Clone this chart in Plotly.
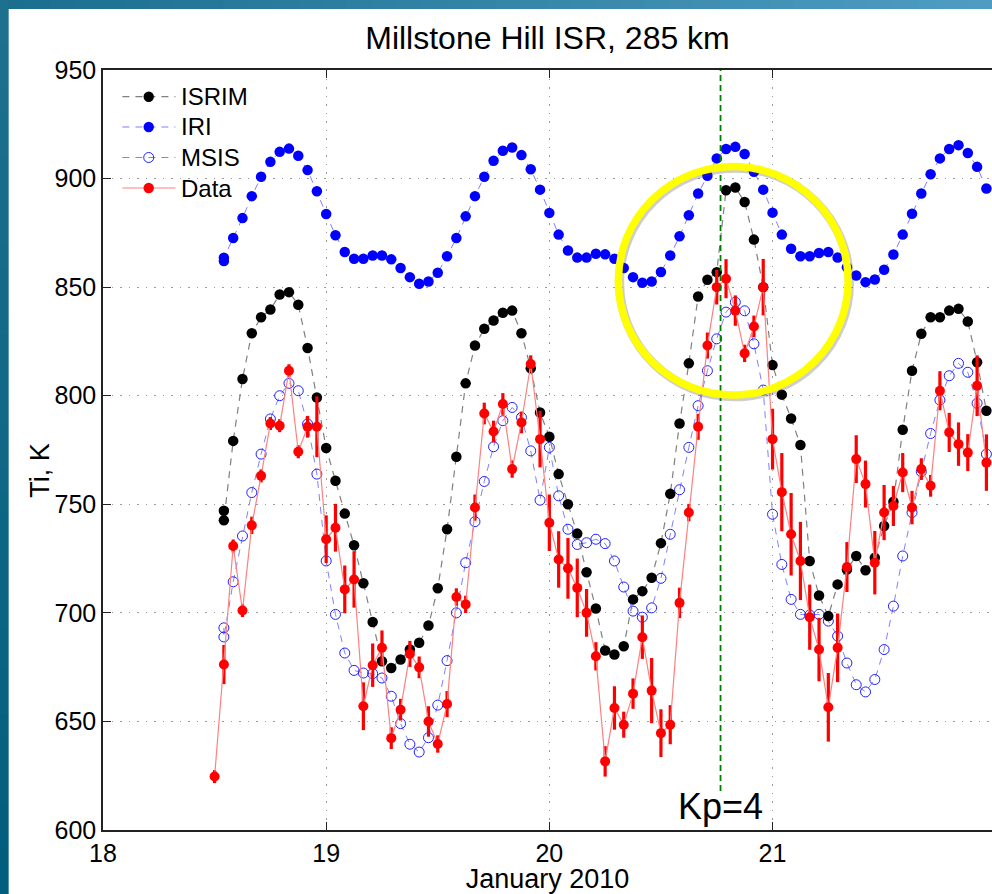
import plotly.graph_objects as go

# ---------------- data ----------------
# model curves are sampled hourly; the first hour (13 UT on Jan 18) appears twice
MODEL_HOURS = [13] + list(range(13, 96))          # hours after 2010-01-18 00 UT
ISRIM = [747, 742.6, 779.2, 807.7, 828.8, 836.1, 839.7, 846.6, 847.7, 841.9, 822.0, 799.2,
         775.9, 760.8, 745.7, 731.1, 713.6, 695.8, 677.7, 674.6, 678.5, 683.1,
         686.2, 694.2, 711.3, 738.5, 771.9, 805.7, 823.1, 830.8, 834.6, 838.2,
         839.2, 828.8, 812.6, 792.3, 781.1, 763.9, 750.0, 736.5, 718.7, 702.0,
         682.7, 680.8, 684.6, 706.2, 710.0, 716.2, 732.1, 754.8, 787.2, 814.9,
         845.7, 853.4, 856.9, 894.6, 895.9, 889.2, 871.9, 850, 814.1, 800.5,
         789.5, 777.3, 723.9, 708.0, 698.5, 713.1, 720.0, 726.2, 719.6, 725.4,
         740.0, 751.2, 784.3, 811.5, 828.5, 836.1, 836.1, 839.2, 840.0, 834.2,
         815.4, 793.1]
IRI = [862, 863.5, 872.6, 881.8, 891.9, 900.8, 907.7, 912.3, 913.8, 910.5, 903.9, 894.2,
       883.7, 873.9, 866.2, 863.1, 863.1, 864.6, 864.6, 862.8, 858.8, 854.6,
       851.6, 852.6, 856.6, 864.2, 872.6, 882.6, 891.9, 900.8, 908.2, 912.8,
       914.3, 910.8, 904.3, 894.9, 884.2, 874.2, 866.9, 863.6, 863.6, 865.4,
       865.1, 863.1, 858.8, 854.6, 852.0, 852.6, 857.0, 864.6, 873.4, 883.1,
       893.1, 901.3, 909.3, 913.6, 914.6, 911.3, 903.1, 894.9, 884.3, 874.2,
       867.7, 864.2, 864.2, 865.7, 866.2, 863.6, 859.2, 855.4, 852.3, 853.5,
       858.0, 865.0, 874.2, 883.8, 893.1, 902.0, 909.3, 913.6, 915.4, 911.8,
       905.4, 895.4]
MSIS = [693.1, 688.9, 714.3, 735.4, 755.4, 773.1, 789.3, 800, 805.7, 802.3, 787, 763.9,
        723.9, 699.3, 681.5, 673.5, 672.3, 672, 670, 661.6, 649, 639.5,
        635.9, 642.5, 657.5, 678, 700, 723.1, 742, 760.5, 776.5, 788.5,
        794.6, 790, 774.6, 751.9, 776.2, 753.9, 738.5, 731.5, 732.3, 733.9,
        731.9, 723.9, 711.9, 700.8, 698, 702.3, 715.9, 736.2, 756.7, 776.2,
        795.4, 811.5, 826.2, 838.5, 843.1, 839.1, 823.9, 802.6, 745.4, 722.3,
        706.2, 699.3, 699, 699.3, 696.2, 689.3, 676.9, 666.9, 663.6, 669.3,
        683.1, 703.1, 726.2, 746.2, 765, 782.6, 798, 809.2, 814.9, 810.8,
        796.5, 773.1]

DATA_HOURS = list(range(12, 96))
DATA = [624.6, 676.2, 730.8, 701.1, 740.3, 763.1, 787.2, 786.2, 811.5, 774.2,
        785.7, 785.7, 733.9, 739.2, 710.8, 715.4, 657, 675.9, 683.9, 642.3,
        655.4, 681.1, 674.9, 650, 639.6, 658, 707.3, 703.9, 748.5, 791.8,
        783.5, 796.2, 766.2, 787.7, 814.6, 780, 741.5, 724.6, 720.5, 711.5,
        700, 680, 631.6, 656.2, 648.5, 662.8, 688.8, 664.2, 644.6, 648.5,
        704.6, 746.2, 785.7, 823.1, 850, 853.9, 839.2, 819.5, 831.9, 850,
        780, 755.6, 736.2, 723.9, 698, 683.1, 656.5, 683.9, 721.1, 770.8,
        759.3, 723.1, 746.2, 749.2, 764.6, 748.5, 766.2, 758.5, 802.3, 783.1,
        777.7, 773.8, 804.6, 769.2]
DATA_ERR = [3, 9, 3, 3, 4, 3, 3, 3, 3, 3, 5, 14, 11, 11, 11, 13, 11, 10, 8, 5,
            5, 6, 5, 7, 4, 6, 4, 4, 6, 5, 5, 5, 4, 5, 4, 13, 13, 13, 14, 13.5,
            11, 6.5, 7, 10, 6, 7, 10, 15, 11, 9, 7, 4, 6, 6, 8, 9, 7, 4, 5, 13,
            14, 18, 19, 18, 15, 14.6, 15.8, 15.8, 11.5, 11, 10.8, 14.6, 12.7, 9.2,
            9, 7.7, 5, 5, 9, 9, 10, 8.5, 14, 13]

X_TICKS = [18, 19, 20, 21, 22]
Y_TICKS = [600, 650, 700, 750, 800, 850, 900, 950]
LEGEND_NAMES = ["ISRIM", "IRI", "MSIS", "Data"]

KP_TIME = 20.767          # day of the Kp=4 marker line
KP_LINE_BOTTOM = 618      # K, lower end of the marker line
KP_LABEL = "Kp=4"
# highlighted region (ellipse bounds, day / K)
HL_X = [20.309, 21.339]
HL_Y = [800.3, 905.6]

FONT = "Liberation Sans, Arial, Helvetica, sans-serif"

# series styles
STYLE = {
    "ISRIM": dict(line="#808080", dash="7px,6px", marker="#000000", open=False),
    "IRI": dict(line="#8080ff", dash="7px,6px", marker="#0000ff", open=False),
    "MSIS": dict(line="#8080ff", dash="7px,6px", marker="#2020ff", open=True),
    "Data": dict(line="#ff8080", dash="solid", marker="#ff0000", open=False),
}


def to_day(hours):
    return [18 + h / 24 for h in hours]


mx = to_day(MODEL_HOURS)
dx = to_day(DATA_HOURS)

fig = go.Figure()

fig.add_trace(go.Scatter(
    x=mx, y=IRI, name="IRI", mode="lines+markers",
    line=dict(color=STYLE["IRI"]["line"], width=1, dash=STYLE["IRI"]["dash"]),
    marker=dict(symbol="circle", size=10.5, color=STYLE["IRI"]["marker"], line=dict(width=0))))
fig.add_trace(go.Scatter(
    x=mx, y=MSIS, name="MSIS", mode="lines+markers",
    line=dict(color=STYLE["MSIS"]["line"], width=1, dash=STYLE["MSIS"]["dash"]),
    marker=dict(symbol="circle-open", size=10, color=STYLE["MSIS"]["marker"], line=dict(width=1))))
fig.add_trace(go.Scatter(
    x=mx, y=ISRIM, name="ISRIM", mode="lines+markers",
    line=dict(color=STYLE["ISRIM"]["line"], width=1.2, dash=STYLE["ISRIM"]["dash"]),
    marker=dict(symbol="circle", size=10.5, color=STYLE["ISRIM"]["marker"], line=dict(width=0))))
fig.add_trace(go.Scatter(
    x=dx, y=DATA, name="Data", mode="lines+markers",
    line=dict(color=STYLE["Data"]["line"], width=1.2),
    marker=dict(symbol="circle", size=10, color=STYLE["Data"]["marker"], line=dict(width=0)),
    error_y=dict(type="data", array=DATA_ERR, visible=True, color="#ff0000",
                 thickness=3.2, width=0)))

# ---------- page geometry (pixels) ----------
W, H = 992, 894
L, T, R, B = 103.3, 70, 992, 830
pw, ph = R - L, B - T


def px2paper(px, py):
    return (px - L) / pw, (B - py) / ph


def lerp(c1, c2, t):
    return "rgb(%d,%d,%d)" % tuple(round(a + (b - a) * t) for a, b in zip(c1, c2))


shapes = []
annotations = []

# slide background (gradient frame)
n = 40
for i in range(n):
    x0, y0 = px2paper(W * i / n, 0)
    x1, y1 = px2paper(W * (i + 1) / n + 1, 9)
    shapes.append(dict(type="rect", xref="paper", yref="paper", x0=x0, x1=x1, y0=y1, y1=y0,
                       fillcolor=lerp((28, 110, 142), (78, 156, 194), i / (n - 1)),
                       line=dict(width=0), layer="below"))
for i in range(n):
    x0, y0 = px2paper(0, H * i / n)
    x1, y1 = px2paper(9, H * (i + 1) / n + 1)
    shapes.append(dict(type="rect", xref="paper", yref="paper", x0=x0, x1=x1, y0=y1, y1=y0,
                       fillcolor=lerp((30, 112, 143), (2, 94, 126), i / (n - 1)),
                       line=dict(width=0), layer="below"))
wx0, wy0 = px2paper(9, 9)
wx1, wy1 = px2paper(W + 2, H + 2)
shapes.append(dict(type="rect", xref="paper", yref="paper", x0=wx0, x1=wx1, y0=wy1, y1=wy0,
                   fillcolor="white", line=dict(width=0), layer="below"))

# Kp marker line
shapes.append(dict(type="line", xref="x", yref="y", x0=KP_TIME, x1=KP_TIME,
                   y0=KP_LINE_BOTTOM, y1=950,
                   line=dict(color="#008000", width=1.8, dash="6px,4px"), layer="above"))
# highlight circle with soft shadow
shapes.append(dict(type="circle", xref="x", yref="y",
                   x0=HL_X[0] + 0.006, x1=HL_X[1] + 0.006, y0=HL_Y[0] - 0.8, y1=HL_Y[1] - 0.8,
                   line=dict(color="rgba(60,60,60,0.25)", width=9), layer="above"))
shapes.append(dict(type="circle", xref="x", yref="y",
                   x0=HL_X[0], x1=HL_X[1], y0=HL_Y[0], y1=HL_Y[1],
                   line=dict(color="#ffff00", width=7.5), layer="above"))

# legend (MATLAB style: sample line, marker, label)
LEG_ROWS = [96.7, 127.0, 157.5, 188.0]
for name, row in zip(LEGEND_NAMES, LEG_ROWS):
    st = STYLE[name]
    xa, ya = px2paper(122.7, row)
    xb, _ = px2paper(175.7, row)
    xm, _ = px2paper(149, row)
    shapes.append(dict(type="line", xref="paper", yref="paper", x0=xa, x1=xb, y0=ya, y1=ya,
                       line=dict(color=st["line"], width=1.2, dash=st["dash"]), layer="above"))
    if st["open"]:
        shapes.append(dict(type="circle", xref="paper", yref="paper", xsizemode="pixel",
                           ysizemode="pixel", xanchor=xm, yanchor=ya, x0=-5, x1=5, y0=-5, y1=5,
                           line=dict(color=st["marker"], width=1), fillcolor="rgba(0,0,0,0)",
                           layer="above"))
    else:
        shapes.append(dict(type="circle", xref="paper", yref="paper", xsizemode="pixel",
                           ysizemode="pixel", xanchor=xm, yanchor=ya, x0=-5.2, x1=5.2, y0=-5.2,
                           y1=5.2, line=dict(width=0), fillcolor=st["marker"], layer="above"))
    xt, _ = px2paper(179, row)
    annotations.append(dict(x=xt, y=ya, xref="paper", yref="paper", text=name, showarrow=False,
                            xanchor="left", yanchor="middle",
                            font=dict(size=24, family=FONT, color="black")))

# Kp label
annotations.append(dict(x=KP_TIME, y=621, xref="x", yref="y", text=KP_LABEL,
                        showarrow=False, xanchor="center", yanchor="top",
                        font=dict(size=36, family=FONT, color="black")))
# y axis title
ytx, yty = px2paper(40, 470)
annotations.append(dict(x=ytx, y=yty, xref="paper", yref="paper", text="Ti, K", textangle=-90,
                        showarrow=False, xanchor="center", yanchor="middle",
                        font=dict(size=27, family=FONT, color="black")))

fig.update_layout(
    width=W, height=H, autosize=False,
    margin=dict(l=L, r=0, t=T, b=H - B),
    paper_bgcolor="rgb(20,104,136)", plot_bgcolor="white",
    font=dict(family=FONT, color="black", size=24),
    title=dict(text="Millstone Hill ISR, 285 km", x=0.5, xref="paper", xanchor="center",
               y=1 - 38 / H, yref="container", yanchor="middle",
               font=dict(size=32, family=FONT, color="black")),
    shapes=shapes,
    annotations=annotations,
    showlegend=False,
)

fig.update_xaxes(range=[18, 18 + pw / 223.1], tickvals=X_TICKS, ticktext=[str(v) for v in X_TICKS],
                 showgrid=True, gridcolor="#9a9a9a", griddash="1.5px,7px", gridwidth=1.2,
                 showline=True, linecolor="#222222", linewidth=1.5, mirror="ticks",
                 ticks="inside", ticklen=8, tickcolor="#222222", tickwidth=1.2,
                 zeroline=False, tickfont=dict(size=25, family=FONT),
                 title=dict(text="January 2010", font=dict(size=27, family=FONT), standoff=6))
fig.update_yaxes(range=[600, 950], tickvals=Y_TICKS, ticktext=[str(v) for v in Y_TICKS],
                 showgrid=True, gridcolor="#9a9a9a", griddash="1.5px,7px", gridwidth=1.2,
                 showline=True, linecolor="#222222", linewidth=1.5, mirror=False,
                 ticks="inside", ticklen=8, tickcolor="#222222", tickwidth=1.2,
                 zeroline=False, tickfont=dict(size=25, family=FONT))

fig.write_html("out.html")
